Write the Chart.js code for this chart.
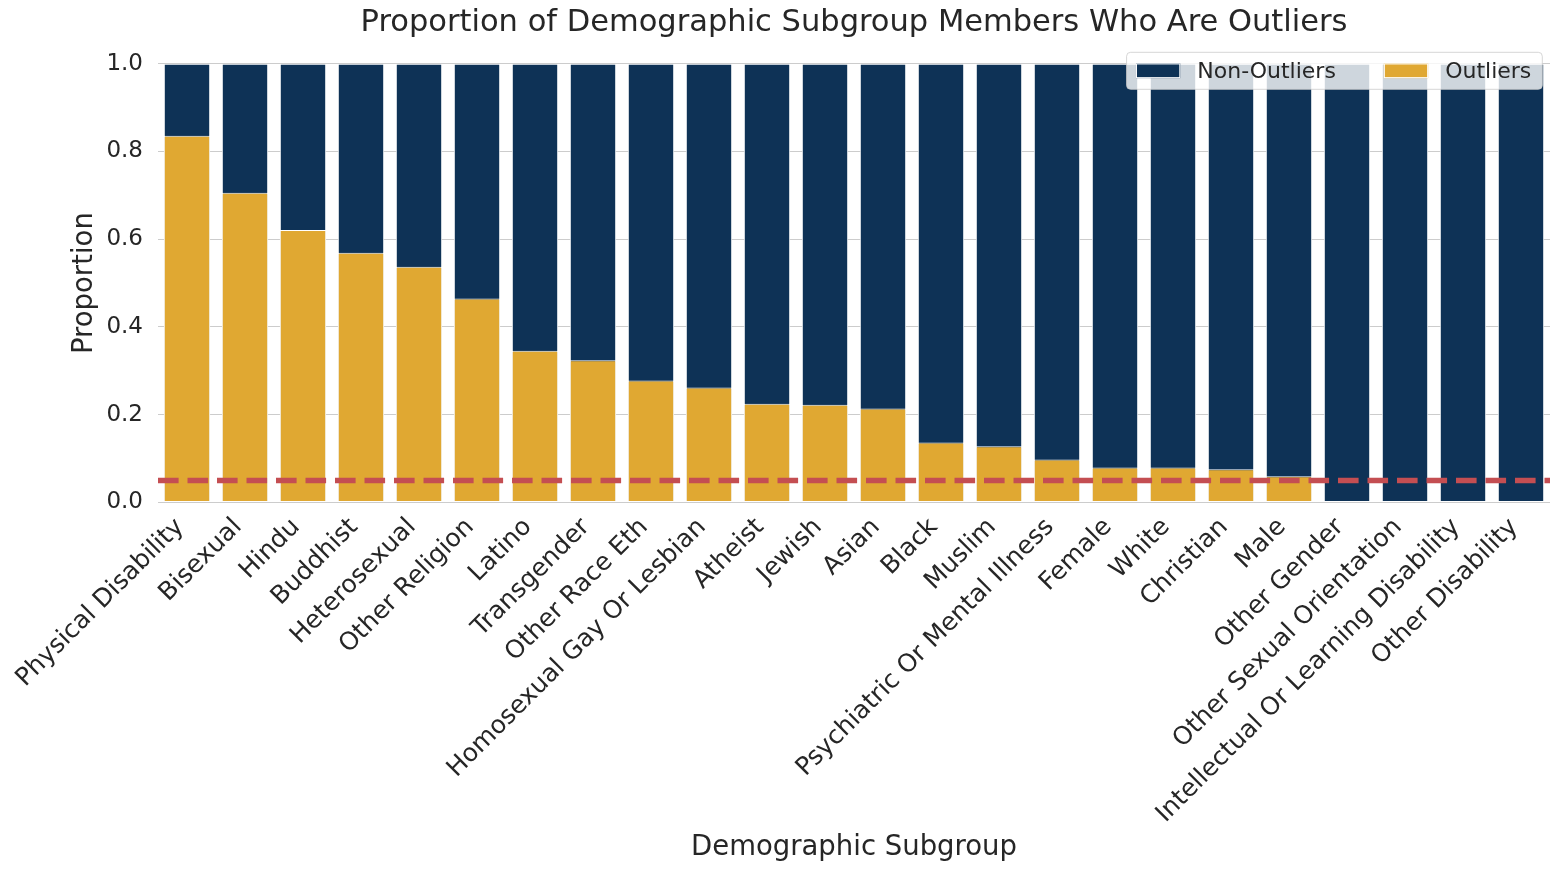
<!DOCTYPE html>
<html>
<head>
<meta charset="utf-8">
<script src="https://cdn.jsdelivr.net/npm/chart.js@4.4.1/dist/chart.umd.min.js"></script>
<style>
  html, body { margin: 0; padding: 0; background: #ffffff; }
  #wrap { width: 1562px; height: 872px; }
</style>
</head>
<body>
<div id="wrap"><canvas id="c" width="1562" height="872"></canvas></div>
<script>
// ---- data ----
const categories = [
  "Physical Disability", "Bisexual", "Hindu", "Buddhist", "Heterosexual",
  "Other Religion", "Latino", "Transgender", "Other Race Eth",
  "Homosexual Gay Or Lesbian", "Atheist", "Jewish", "Asian", "Black",
  "Muslim", "Psychiatric Or Mental Illness", "Female", "White", "Christian",
  "Male", "Other Gender", "Other Sexual Orientation",
  "Intellectual Or Learning Disability", "Other Disability"
];
// full bar height (all group members) drawn as the Non-Outliers background bar
const groupTotal = [1, 1, 1, 1, 1, 1, 1, 1, 1, 1, 1, 1, 1, 1, 1, 1, 1, 1, 1, 1, 1, 1, 1, 1];
// proportion of members who are outliers
const outlierShare = [
  0.836, 0.706, 0.621, 0.569, 0.537, 0.465, 0.346, 0.324, 0.278,
  0.262, 0.225, 0.223, 0.214, 0.137, 0.128, 0.098, 0.080, 0.080, 0.076,
  0.060, 0.0, 0.0, 0.0, 0.0
];
const thresholdValue = 0.05;
const seriesNames = ["Non-Outliers", "Outliers"];
const chartTitle = "Proportion of Demographic Subgroup Members Who Are Outliers";
const xTitle = "Demographic Subgroup";
const yTitle = "Proportion";

// ---- styles ----
const NAVY = "#0e3256";
const GOLD = "#e0a832";
const TEXT = "#262626";
const FONT = "'DejaVu Sans', 'Liberation Sans', sans-serif";

const thresholdPlugin = {
  id: "threshold",
  afterDatasetsDraw(chart) {
    const ctx = chart.ctx;
    const ca = chart.chartArea;
    const y = chart.scales.y.getPixelForValue(thresholdValue);
    ctx.save();
    ctx.beginPath();
    ctx.setLineDash([20.6, 8.9]);
    ctx.lineDashOffset = 0;
    ctx.lineCap = "butt";
    ctx.lineWidth = 5.5;
    ctx.strokeStyle = "#c44e52";
    ctx.moveTo(ca.left, y);
    ctx.lineTo(ca.right, y);
    ctx.stroke();
    ctx.restore();
  }
};

const legendPlugin = {
  id: "boxLegend",
  afterDraw(chart) {
    const ctx = chart.ctx;
    const ca = chart.chartArea;
    const fontSize = 22;
    ctx.save();
    ctx.font = fontSize + "px " + FONT;
    const ds = chart.data.datasets;
    const padL = 9.4, patchW = 44.3, patchH = 14.7, gap = 17, itemSpace = 48, padR = 11;
    const widths = ds.map(d => ctx.measureText(d.label).width);
    let total = padL + padR;
    widths.forEach((w, i) => { total += patchW + gap + w + (i < widths.length - 1 ? itemSpace : 0); });
    const boxH = 37;
    const right = ca.right - 7.7;
    const left = right - total;
    const top = ca.top - 11.4;
    // box
    const r = 4;
    ctx.beginPath();
    ctx.moveTo(left + r, top);
    ctx.lineTo(right - r, top);
    ctx.arcTo(right, top, right, top + r, r);
    ctx.lineTo(right, top + boxH - r);
    ctx.arcTo(right, top + boxH, right - r, top + boxH, r);
    ctx.lineTo(left + r, top + boxH);
    ctx.arcTo(left, top + boxH, left, top + boxH - r, r);
    ctx.lineTo(left, top + r);
    ctx.arcTo(left, top, left + r, top, r);
    ctx.closePath();
    ctx.fillStyle = "rgba(255,255,255,0.8)";
    ctx.fill();
    ctx.lineWidth = 1;
    ctx.strokeStyle = "rgba(204,204,204,0.8)";
    ctx.stroke();
    // items
    let x = left + padL;
    const cy = top + boxH / 2;
    ds.forEach((d, i) => {
      ctx.fillStyle = d.backgroundColor;
      ctx.fillRect(x, cy - patchH / 2, patchW, patchH);
      ctx.lineWidth = 1;
      ctx.strokeStyle = "#ffffff";
      ctx.strokeRect(x + 0.5, cy - patchH / 2 + 0.5, patchW - 1, patchH - 1);
      x += patchW + gap;
      ctx.fillStyle = TEXT;
      ctx.textAlign = "left";
      ctx.textBaseline = "middle";
      ctx.fillText(d.label, x, cy + 1);
      x += widths[i] + itemSpace;
    });
    ctx.restore();
  }
};

new Chart(document.getElementById("c"), {
  type: "bar",
  data: {
    labels: categories,
    datasets: [
      {
        label: seriesNames[0],
        data: groupTotal,
        backgroundColor: NAVY,
        borderColor: "#ffffff",
        borderWidth: 1,
        borderSkipped: false,
        grouped: false,
        order: 1,
        barPercentage: 0.8,
        categoryPercentage: 1.0
      },
      {
        label: seriesNames[1],
        data: outlierShare,
        backgroundColor: GOLD,
        borderColor: "#ffffff",
        borderWidth: 1,
        borderSkipped: false,
        grouped: false,
        order: 0,
        barPercentage: 0.8,
        categoryPercentage: 1.0
      }
    ]
  },
  options: {
    responsive: false,
    animation: false,
    devicePixelRatio: 1,
    layout: { padding: { left: 0, right: 12, top: 0, bottom: 0 } },
    plugins: {
      legend: { display: false },
      tooltip: { enabled: false },
      title: {
        display: true,
        text: chartTitle,
        fullSize: false,
        color: TEXT,
        font: { family: FONT, size: 30.5, weight: "normal" },
        padding: { top: 5.2, bottom: 21.9 }
      }
    },
    scales: {
      x: {
        grid: { display: false, drawTicks: false },
        border: { display: false },
        ticks: {
          color: TEXT,
          font: { family: FONT, size: 25 },
          minRotation: 45,
          maxRotation: 45,
          autoSkip: false,
          padding: 10,
          labelOffset: -7
        },
        title: {
          display: true,
          text: xTitle,
          color: TEXT,
          font: { family: FONT, size: 27.5 },
          padding: { top: 0, bottom: 8 }
        },
        afterFit(scale) { scale.height = 369.5; }
      },
      y: {
        min: 0,
        max: 1,
        grid: { color: "#cccccc", lineWidth: 1, drawTicks: false },
        border: { display: false },
        ticks: {
          stepSize: 0.2,
          color: TEXT,
          font: { family: FONT, size: 23 },
          padding: 15,
          callback: (v) => Number(v).toFixed(1)
        },
        title: {
          display: true,
          text: yTitle,
          color: TEXT,
          font: { family: FONT, size: 27.5 },
          padding: { top: 68, bottom: 0 }
        },
        afterFit(scale) { scale.width = 158; }
      }
    }
  },
  plugins: [thresholdPlugin, legendPlugin]
});
</script>
</body>
</html>
